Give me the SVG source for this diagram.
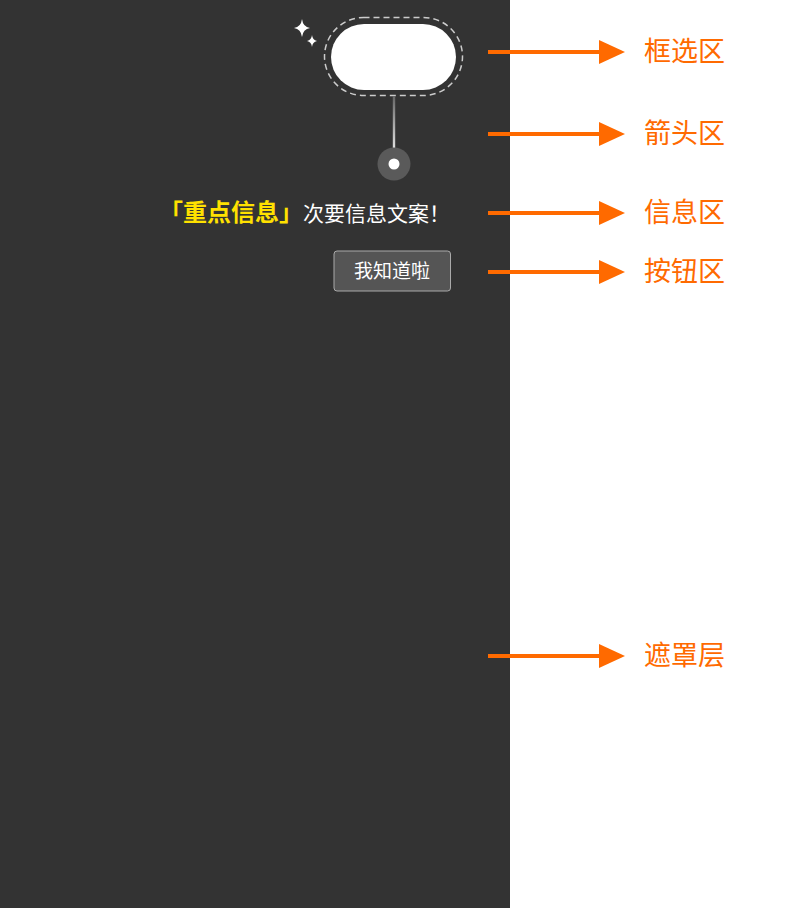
<svg xmlns="http://www.w3.org/2000/svg" width="802" height="908" viewBox="0 0 802 908">
<style>
.lbl{font-family:"Noto Sans CJK SC","Liberation Sans",sans-serif;font-size:27px;fill:#ff6a00}
.arr{stroke:#ff6a00;stroke-width:4;fill:none}
.head{fill:#ff6a00}
</style>
<defs>
<linearGradient id="stem" x1="0" y1="0" x2="0" y2="1">
<stop offset="0" stop-color="#666"/>
<stop offset="1" stop-color="#fff"/>
</linearGradient>
</defs>
<rect x="0" y="0" width="802" height="908" fill="#fff"/>
<g id="mask"><rect x="0" y="0" width="510" height="908" fill="#333"/></g>
<g id="frame">
<rect x="324.5" y="17.5" width="138" height="78" rx="39" fill="none" stroke="#ccc" stroke-width="1.5" stroke-dasharray="6 4"/>
<rect x="331" y="24" width="125" height="66" rx="33" fill="#fff"/>
<path d="M302 19 Q303 27 310 28 Q303 29 302 37 Q301 29 294 28 Q301 27 302 19Z" fill="#fff"/>
<path d="M312 35 Q312.5 40 317 41 Q312.5 42 312 47 Q311.5 42 307 41 Q311.5 40 312 35Z" fill="#fff"/>
</g>
<g id="pointer">
<rect x="392.8" y="96" width="2.4" height="66" fill="url(#stem)"/>
<circle cx="394" cy="164" r="16.5" fill="#5a5a5a"/>
<circle cx="394" cy="164" r="5.5" fill="#fff"/>
</g>
<g id="info">
<text x="450" y="221" text-anchor="end" font-family="'Noto Sans CJK SC',sans-serif"><tspan font-size="24" font-weight="bold" fill="#ffe100">「重点信息」</tspan><tspan font-size="21" fill="#fff">次要信息文案！</tspan></text>
</g>
<g id="button">
<rect x="334" y="251" width="116.5" height="40" rx="3" fill="#555" stroke="#aaa" stroke-width="1"/>
<text x="392" y="278" text-anchor="middle" font-family="'Noto Sans CJK SC',sans-serif" font-size="19" fill="#fff">我知道啦</text>
</g>
<g id="connectors">
<line class="arr" x1="488" y1="52" x2="600" y2="52"/><polygon class="head" points="599,40 625,52 599,64"/>
<line class="arr" x1="488" y1="134" x2="600" y2="134"/><polygon class="head" points="599,122 625,134 599,146"/>
<line class="arr" x1="488" y1="213" x2="600" y2="213"/><polygon class="head" points="599,201 625,213 599,225"/>
<line class="arr" x1="488" y1="272" x2="600" y2="272"/><polygon class="head" points="599,260 625,272 599,284"/>
<line class="arr" x1="488" y1="656" x2="600" y2="656"/><polygon class="head" points="599,644 625,656 599,668"/>
</g>
<g id="labels">
<text class="lbl" x="644" y="61">框选区</text>
<text class="lbl" x="644" y="143">箭头区</text>
<text class="lbl" x="644" y="222">信息区</text>
<text class="lbl" x="644" y="281">按钮区</text>
<text class="lbl" x="644" y="665">遮罩层</text>
</g>
</svg>
